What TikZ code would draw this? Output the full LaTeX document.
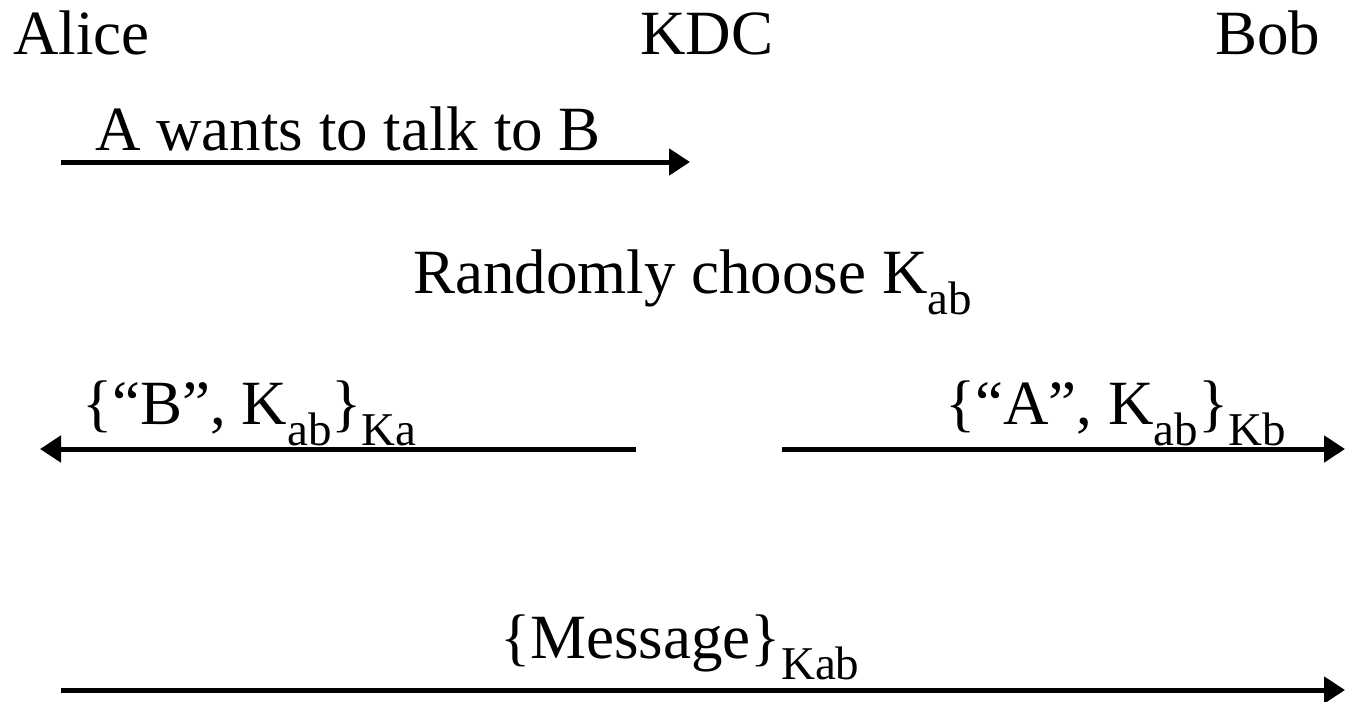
\documentclass[tikz,border=0pt]{standalone}
\usepackage{fontspec}
\setmainfont{Liberation Serif}
\usetikzlibrary{arrows.meta}
\newcommand\mysub[1]{\raisebox{-21pt}{\fontsize{47}{47}\selectfont #1}}
\begin{document}
\begin{tikzpicture}[x=1pt,y=-1pt,
  lbl/.style={anchor=base west,inner sep=0pt,font=\fontsize{63}{65}\selectfont},
  msg/.style={line width=5pt,-{Triangle[length=21pt,width=26pt]}}]
\useasboundingbox (0,0) rectangle (1359,701);
\node[lbl] (alice) at (13,55) {Alice};
\node[lbl] (kdc) at (640,55) {KDC};
\node[lbl] (bob) at (1215,55) {Bob};
\node[lbl] (l1) at (95,150) {A wants to talk to B};
\coordinate (a1s) at (61,162);
\coordinate (a1e) at (690,162);
\draw[msg] (a1s) -- (a1e);
\node[lbl] (rnd) at (413,293) {Randomly choose K\mysub{ab}};
\node[lbl] (l2) at (82,424) {\{“B”, K\mysub{ab}\}\mysub{Ka}};
\coordinate (a2s) at (636,449);
\coordinate (a2e) at (40,449);
\draw[msg] (a2s) -- (a2e);
\node[lbl] (l3) at (945,424) {\{“A”, K\mysub{ab}\}\mysub{Kb}};
\coordinate (a3s) at (782,449);
\coordinate (a3e) at (1345,449);
\draw[msg] (a3s) -- (a3e);
\node[lbl] (l4) at (500,658) {\{Message\}\mysub{Kab}};
\coordinate (a4s) at (61,690);
\coordinate (a4e) at (1345,690);
\draw[msg] (a4s) -- (a4e);
\end{tikzpicture}
\end{document}
